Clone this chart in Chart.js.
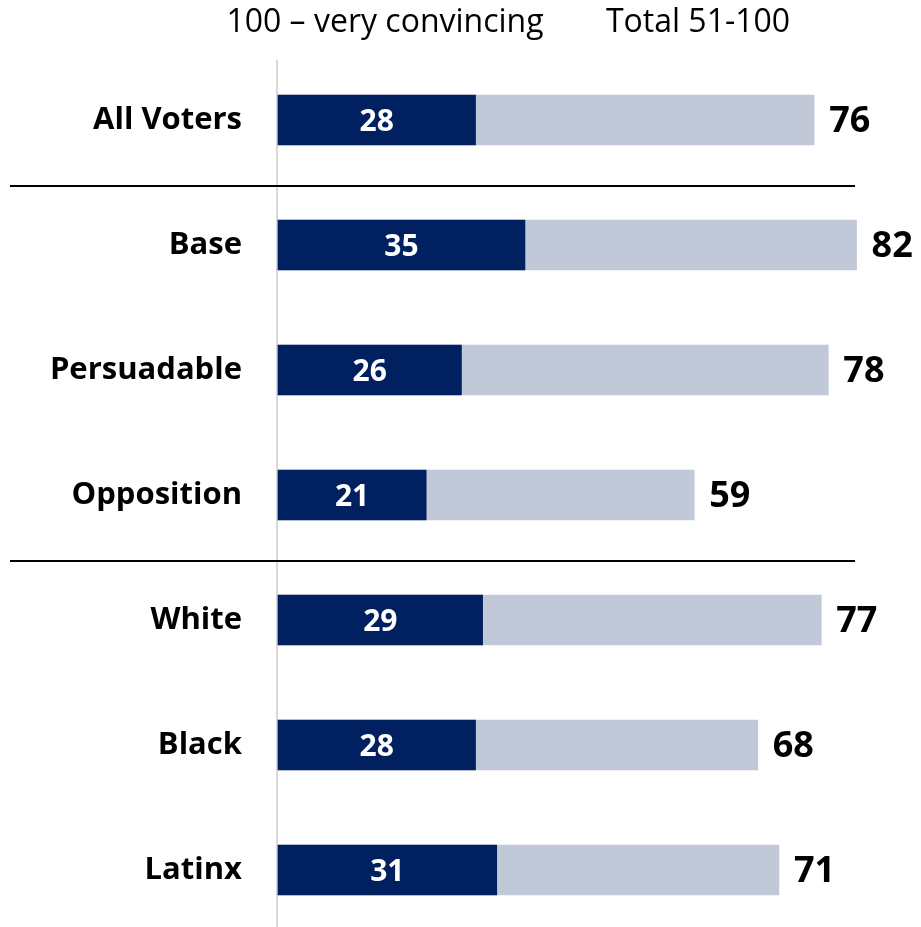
<!DOCTYPE html>
<html>
<head>
<meta charset="utf-8">
<script src="https://cdn.jsdelivr.net/npm/chart.js@4"></script>
<style>
  html, body { margin: 0; padding: 0; background: #fff; }
  #wrap { width: 921px; height: 927px; position: relative; }
</style>
</head>
<body>
<div id="wrap"><canvas id="grafico"></canvas></div>
<script>
var categorias = ['All Voters', 'Base', 'Persuadable', 'Opposition', 'White', 'Black', 'Latinx'];
var muyConvincente = [28, 35, 26, 21, 29, 28, 31];
var total51a100 = [76, 82, 78, 59, 77, 68, 71];
var encabezados = ['100 \u2013 very convincing', 'Total 51-100'];

var FUENTE = "'Open Sans', 'Noto Sans', sans-serif";

// lineas, encabezados y etiquetas de valores
var extras = {
    id: 'extras',
    beforeDatasetsDraw: function (chart) {
        var ctx = chart.ctx;
        var y = chart.scales.y;
        var area = chart.chartArea;
        ctx.save();
        // eje vertical
        ctx.strokeStyle = '#d9d9d9';
        ctx.lineWidth = 2;
        ctx.beginPath();
        ctx.moveTo(area.left - 1, 60);
        ctx.lineTo(area.left - 1, 927);
        ctx.stroke();
        // separadores
        ctx.strokeStyle = '#000';
        ctx.lineWidth = 2;
        [0, 3].forEach(function (i) {
            var py = Math.round((y.getPixelForValue(i) + y.getPixelForValue(i + 1)) / 2) + 3;
            ctx.beginPath();
            ctx.moveTo(10, py);
            ctx.lineTo(855, py);
            ctx.stroke();
        });
        ctx.restore();
    },
    afterDatasetsDraw: function (chart) {
        var ctx = chart.ctx;
        ctx.save();
        ctx.textBaseline = 'middle';
        // encabezados
        ctx.fillStyle = '#000';
        ctx.font = '32px ' + FUENTE;
        ctx.textAlign = 'center';
        ctx.fillText(encabezados[0], 385, 23);
        ctx.fillText(encabezados[1], 698, 23);

        var metaOscura = chart.getDatasetMeta(0);
        var metaTotal = chart.getDatasetMeta(1);
        metaOscura.data.forEach(function (bar, i) {
            ctx.fillStyle = '#fff';
            ctx.font = 'bold 30px ' + FUENTE;
            ctx.textAlign = 'center';
            ctx.fillText(muyConvincente[i], (bar.x + bar.base) / 2, bar.y + 2);
        });
        metaTotal.data.forEach(function (bar, i) {
            ctx.fillStyle = '#000';
            ctx.font = 'bold 36px ' + FUENTE;
            ctx.textAlign = 'left';
            ctx.fillText(total51a100[i], bar.x + 15, bar.y + 2);
        });
        ctx.restore();
    }
};

var chart = new Chart(document.getElementById('grafico').getContext('2d'), {
    type: 'bar',
    data: {
        labels: categorias,
        datasets: [{
            label: '100 - very convincing',
            data: muyConvincente,
            backgroundColor: '#002060',
            barThickness: 50,
            clip: false
        }, {
            label: 'Total 51-100',
            data: total51a100,
            backgroundColor: '#c1c8d8',
            barThickness: 50,
            clip: false
        }]
    },
    options: {
        indexAxis: 'y',
        responsive: true,
        maintainAspectRatio: false,
        animation: false,
        layout: { padding: { top: 120, bottom: 57, left: 0, right: 8 } },
        plugins: {
            legend: { display: false },
            tooltip: { enabled: false }
        },
        scales: {
            x: {
                display: false,
                min: 0,
                max: 90
            },
            y: {
                stacked: true,
                offset: false,
                grid: { display: false, drawTicks: false },
                border: { display: false },
                ticks: {
                    padding: 36,
                    color: '#000',
                    font: { family: FUENTE, size: 31, weight: 'bold' }
                },
                afterFit: function (scale) { scale.width = 278; }
            }
        }
    },
    plugins: [extras]
});
</script>
</body>
</html>
